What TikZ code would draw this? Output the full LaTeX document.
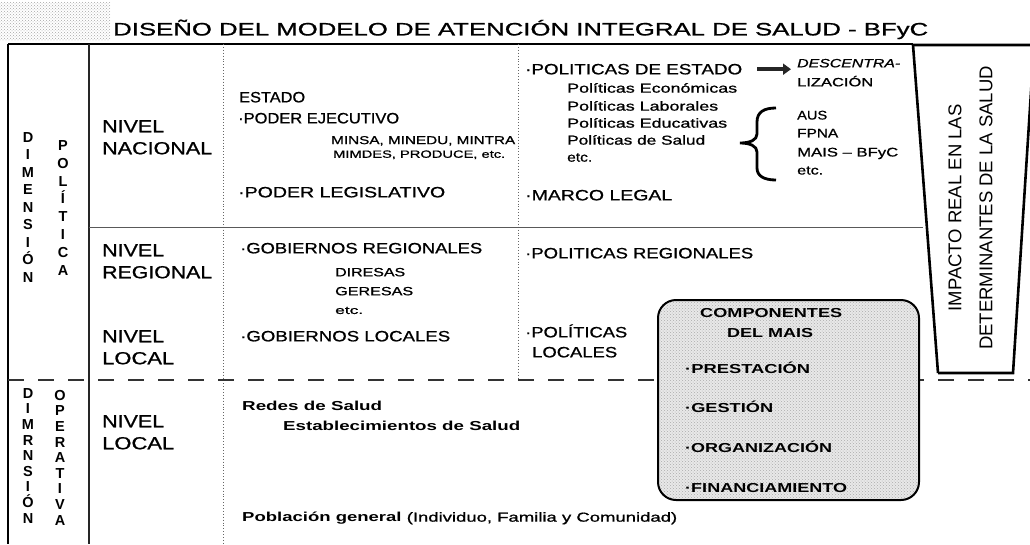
\documentclass[tikz,border=0pt]{standalone}
\usepackage{fontspec}
\setmainfont{Liberation Sans}
\newfontfamily\medf{Liberation Sans}[FakeBold=0.8]
\usepackage{graphicx}
\usetikzlibrary{patterns,arrows.meta}
% name, x-left, y-center of caps, font size, target width, text
\newcommand\tx[6]{\node[inner sep=0pt, anchor=base west] (#1) at (#2,{#3+0.358*#4}) {\fontsize{#4pt}{#4pt}\medf\selectfont\resizebox{#5pt}{\height}{#6}};}
\newcommand\bx{\normalfont\bfseries}
\begin{document}
\begin{tikzpicture}[x=1pt,y=-1pt,
  letter/.style={inner sep=0pt, anchor=base, font=\fontsize{14.5pt}{14.5pt}\selectfont\bfseries},
  trap/.style={inner sep=0pt, rotate=90, font=\fontsize{18.5pt}{18.5pt}\selectfont},
  frame/.style={line width=2pt, black},
  thinsep/.style={line width=1.2pt, black!85},
  dotsep/.style={dotted, line width=0.9pt, black!60},
  dashsep/.style={dash pattern=on 16pt off 14pt, line width=2pt, black!80}]
\useasboundingbox (0,0) rectangle (1030,544);
\clip (0,0) rectangle (1030,544);
\fill[white] (0,0) rectangle (1030,544);
% speckled patch
\fill[pattern=crosshatch dots, pattern color=gray!70] (0,2) rectangle (110,40);
% title
\tx{title}{113}{29}{18}{815}{DISEÑO DEL MODELO DE ATENCIÓN INTEGRAL DE SALUD - BFyC}
% table lines
\draw[frame] (8,44) -- (913,44);
\draw[frame] (8,44) -- (8,544);
\draw[thinsep] (89,44) -- (89,544);
\draw[dotsep] (223,44) -- (223,544);
\draw[dotsep] (518,44) -- (518,380);
\draw[line width=1pt, black!65] (89,227) -- (923,227);
\draw[dashsep] (8,380) -- (1030,380);
% trapezoid
\draw[line width=2.6pt, line join=miter] (938,373) -- (913,45) -- (1040,45);
\draw[line width=2.6pt] (1034,45) -- (1013,373) -- (938,373);
\node[trap] (imp1) at (955,208) {IMPACTO REAL EN LAS};
\node[trap] (imp2) at (986,208) {DETERMINANTES DE LA SALUD};
% dimension letters
\foreach \c [count=\i] in {D,I,M,E,N,S,I,Ó,N}
  \node[letter] (dp\i) at (28,{137+17.5*(\i-1)+5.2}) {\c};
\foreach \c [count=\i] in {P,O,L,Í,T,I,C,A}
  \node[letter] (pp\i) at (63,{145+17.9*(\i-1)+5.2}) {\c};
\foreach \c [count=\i] in {D,I,M,R,N,S,I,Ó,N}
  \node[letter] (do\i) at (28,{393+15.6*(\i-1)+5.2}) {\c};
\foreach \c [count=\i] in {O,P,E,R,A,T,I,V,A}
  \node[letter] (op\i) at (60,{395+15.6*(\i-1)+5.2}) {\c};
% levels
\tx{nv1}{102}{126}{17.5}{62}{NIVEL}
\tx{nv1b}{102}{148}{17.5}{110}{NACIONAL}
\tx{nv2}{102}{250}{17.5}{62}{NIVEL}
\tx{nv2b}{102}{272}{17.5}{110}{REGIONAL}
\tx{nv3}{102}{336}{17.5}{62}{NIVEL}
\tx{nv3b}{102}{358}{17.5}{72}{LOCAL}
\tx{nv4}{102}{421}{17.5}{62}{NIVEL}
\tx{nv4b}{102}{443}{17.5}{72}{LOCAL}
% middle column
\tx{est}{239}{97}{15}{66}{ESTADO}
\tx{pej}{238}{118}{15}{161}{·PODER EJECUTIVO}
\tx{mina}{331}{140}{11.5}{184}{MINSA, MINEDU, MINTRA}
\tx{minb}{333}{154}{10.5}{172}{MIMDES, PRODUCE, etc.}
\tx{pleg}{238}{192}{15}{207}{·PODER LEGISLATIVO}
\tx{greg}{240}{248}{15}{242}{·GOBIERNOS REGIONALES}
\tx{dir}{335}{272}{12}{70}{DIRESAS}
\tx{ger}{335}{291}{12}{78}{GERESAS}
\tx{etca}{335}{310}{11}{28}{etc.}
\tx{gloc}{240}{336}{15}{210}{·GOBIERNOS LOCALES}
\tx{redes}{242}{406}{13}{140}{\bx Redes de Salud}
\tx{estab}{283}{426}{13}{237}{\bx Establecimientos de Salud}
\tx{pob}{242}{517}{13}{435}{{\bx Población general} (Individuo, Familia y Comunidad)}
% right column
\tx{pe}{525}{69}{15}{217}{·POLITICAS DE ESTADO}
\tx{desca}{797}{63}{12}{103}{\itshape DESCENTRA-}
\tx{descb}{797}{82}{12}{76}{LIZACIÓN}
\draw[line width=3.5pt, black!85, -{Triangle[length=8pt,width=11pt]}] ([xshift=15pt]pe.east) -- ([xshift=-6pt]desca.west |- pe.east);
\tx{pola}{567}{88}{13}{170}{Políticas Económicas}
\tx{polb}{567}{106}{13}{151}{Políticas Laborales}
\tx{polc}{567}{123}{13}{160}{Políticas Educativas}
\tx{pold}{567}{140}{13}{138}{Políticas de Salud}
\tx{pole}{567}{157}{13}{25}{etc.}
\draw[line width=2.8pt] (776,108) .. controls (764,108) and (757,112) .. (757,122) -- (757,134) .. controls (757,140) and (750,143) .. (740,143) .. controls (750,143) and (757,146) .. (757,152) -- (757,168) .. controls (757,176) and (764,180) .. (776,180);
\tx{aus}{797}{115}{12.5}{30}{AUS}
\tx{fpna}{797}{133}{12.5}{41}{FPNA}
\tx{maisb}{797}{152}{12.5}{101}{MAIS – BFyC}
\tx{etcb}{797}{170}{12.5}{26}{etc.}
\tx{mleg}{525}{195}{15}{147}{·MARCO LEGAL}
\tx{preg}{525}{253}{15}{228}{·POLITICAS REGIONALES}
\tx{ploca}{525}{332}{15}{102}{·POLÍTICAS}
\tx{plocb}{532}{352}{15}{85}{LOCALES}
% MAIS components box
\fill[gray!18, rounded corners=18pt] (658,300) rectangle (919,500);
\fill[pattern=crosshatch dots, pattern color=gray!65, rounded corners=18pt] (658,300) rectangle (919,500);
\draw[line width=2pt, rounded corners=18pt] (658,300) rectangle (919,500);
\tx{compa}{700}{313}{13}{142}{\bx COMPONENTES}
\tx{compb}{727}{333}{13}{86}{\bx DEL MAIS}
\tx{ca}{685}{369}{13}{125}{\bx ·PRESTACIÓN}
\tx{cb}{685}{408}{13}{88}{\bx ·GESTIÓN}
\tx{cc}{685}{448}{13}{147}{\bx ·ORGANIZACIÓN}
\tx{cd}{685}{488}{13}{162}{\bx ·FINANCIAMIENTO}
\end{tikzpicture}
\end{document}
